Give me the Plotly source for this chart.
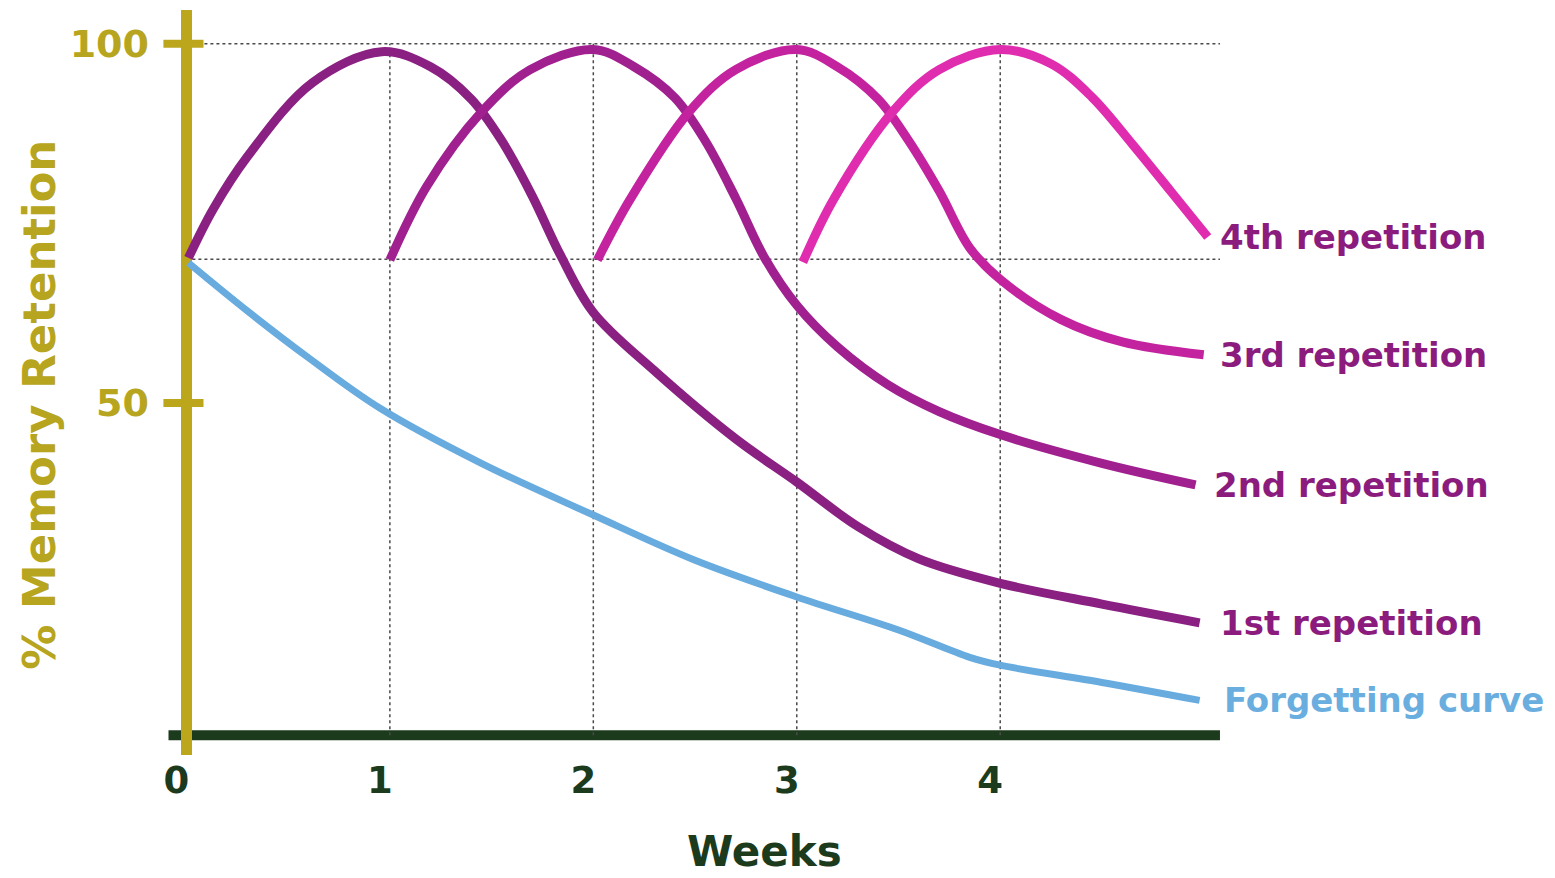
import plotly.graph_objects as go

# ---------------- data (weeks, % retention) ----------------
forget_x = [0.01, 0.3, 0.6, 0.95, 1.45, 2.0, 2.5, 3.0, 3.5, 3.85, 4.0, 4.5, 4.98]
forget_y = [69.5, 62.8, 56.3, 49.3, 41.6, 34.4, 28.1, 23.0, 18.4, 14.6, 13.5, 11.1, 8.6]

rep1_x = [0.01, 0.13, 0.30, 0.62, 0.96, 1.2, 1.4, 1.55, 1.7, 1.84, 2.0, 2.3, 2.7, 3.0, 3.3, 3.6, 4.0, 4.5, 4.98]
rep1_y = [70.2, 76.9, 84.3, 94.6, 98.9, 96.8, 92.3, 86.5, 78.8, 70.5, 62.6, 54.5, 45.0, 39.0, 32.8, 28.3, 24.9, 22.0, 19.4]

rep2_x = [1.0, 1.18, 1.45, 1.69, 2.0, 2.2, 2.4, 2.55, 2.7, 2.84, 3.0, 3.2, 3.45, 3.7, 4.0, 4.5, 4.96]
rep2_y = [69.9, 80.1, 90.5, 96.4, 99.2, 96.8, 92.5, 86.5, 78.5, 70.3, 63.6, 57.8, 52.5, 48.8, 45.6, 41.6, 38.6]

rep3_x = [2.02, 2.18, 2.47, 2.70, 3.0, 3.2, 3.4, 3.55, 3.7, 3.85, 4.0, 4.3, 4.6, 5.0]
rep3_y = [69.9, 78.3, 90.5, 96.4, 99.2, 96.8, 92.3, 86.5, 79.5, 71.6, 67.2, 61.6, 58.5, 56.7]

rep4_x = [3.03, 3.18, 3.47, 3.70, 4.0, 4.25, 4.45, 4.65, 4.84, 5.02]
rep4_y = [69.6, 78.3, 90.5, 96.4, 99.2, 97.2, 92.6, 86.0, 79.4, 73.1]

series_names = ["Forgetting curve", "1st repetition", "2nd repetition", "3rd repetition", "4th repetition"]
series_x = [forget_x, rep1_x, rep2_x, rep3_x, rep4_x]
series_y = [forget_y, rep1_y, rep2_y, rep3_y, rep4_y]

x_tick_vals = [0, 1, 2, 3, 4]
x_tick_text = ["0", "1", "2", "3", "4"]
y_tick_vals = [50, 100]
y_tick_text = ["50", "100"]
y_grid_vals = [70, 100]
x_grid_vals = [1, 2, 3, 4]

x_title = "Weeks"
y_title = "% Memory Retention"

# ---------------- style ----------------
FONT = "DejaVu Sans"
GOLD = "#bba61c"
GOLD_TXT = "#b7a520"
GREEN = "#1c3a1c"
GRID = "#4a4a4a"
LABEL_PURPLE = "#8b1c7d"
line_colors = ["#68abdf", "#8a2081", "#a1208f", "#c4239f", "#e02cae"]
line_widths = [7, 9, 9, 9, 9]
label_colors = ["#6aaee0", LABEL_PURPLE, LABEL_PURPLE, LABEL_PURPLE, LABEL_PURPLE]

BASE_Y = 3.76
X_RANGE = [-0.12, 5.09]
Y_RANGE = [1.0, 104.7]
X_END = 5.08

fig = go.Figure()

for name, xs, ys, col, w in zip(series_names, series_x, series_y, line_colors, line_widths):
    fig.add_trace(go.Scatter(
        x=xs, y=ys, mode="lines", name=name,
        line=dict(color=col, width=w, shape="spline", smoothing=1.0),
        hoverinfo="skip", showlegend=False,
    ))

shapes = []
# x axis bar (dark green)
shapes.append(dict(type="line", xref="x", yref="y", x0=-0.088, x1=X_END, y0=BASE_Y, y1=BASE_Y,
                   line=dict(color=GREEN, width=10), layer="below"))
# horizontal dotted grid
for gy in y_grid_vals:
    shapes.append(dict(type="line", xref="x", yref="y", x0=0, x1=X_END, y0=gy, y1=gy,
                       line=dict(color=GRID, width=1.5, dash="dot"), layer="below"))
# vertical dotted grid
for gx in x_grid_vals:
    shapes.append(dict(type="line", xref="x", yref="y", x0=gx, x1=gx, y0=BASE_Y, y1=100,
                       line=dict(color=GRID, width=1.5, dash="dot"), layer="below"))
# y tick bars across the gold axis
for v in y_tick_vals:
    shapes.append(dict(type="line", xref="x", yref="y", x0=-0.113, x1=0.084, y0=v, y1=v,
                       line=dict(color=GOLD, width=8), layer="above"))

annotations = []
label_shift = [22, 18, 16, 14, 10]
for name, xs, ys, col, sh in zip(series_names, series_x, series_y, label_colors, label_shift):
    annotations.append(dict(
        x=xs[-1], y=ys[-1], xref="x", yref="y", text=name, showarrow=False,
        xanchor="left", yanchor="middle", xshift=sh,
        font=dict(family=FONT, size=34, color=col, weight="bold"),
    ))

annotations.append(dict(
    x=0.568, y=-0.13, xref="paper", yref="paper", text=x_title, showarrow=False,
    xanchor="center", yanchor="middle",
    font=dict(family=FONT, size=42, color=GREEN, weight="bold"),
))
annotations.append(dict(
    x=-0.1151, y=0.47, xref="paper", yref="paper", text=y_title, showarrow=False,
    textangle=-90, xanchor="center", yanchor="middle",
    font=dict(family=FONT, size=45, color=GOLD_TXT, weight="bold"),
))

fig.update_layout(
    width=1555, height=878,
    margin=dict(l=154, r=341, t=2, b=131),
    paper_bgcolor="white", plot_bgcolor="white",
    shapes=shapes, annotations=annotations,
    xaxis=dict(
        range=X_RANGE, tickvals=x_tick_vals, ticktext=x_tick_text,
        showgrid=False, showline=False, ticks="",
        zeroline=True, zerolinecolor=GOLD, zerolinewidth=11,
        ticklabelshift=-10, ticklabelstandoff=0,
        tickfont=dict(family=FONT, size=37, color=GREEN, weight="bold"),
        fixedrange=True,
    ),
    yaxis=dict(
        range=Y_RANGE, tickvals=y_tick_vals, ticktext=y_tick_text,
        showgrid=False, showline=False, zeroline=False, ticks="",
        ticklabelstandoff=12,
        tickfont=dict(family=FONT, size=38, color=GOLD_TXT, weight="bold"),
        fixedrange=True,
    ),
    showlegend=False,
)

fig.write_html("out.html")
